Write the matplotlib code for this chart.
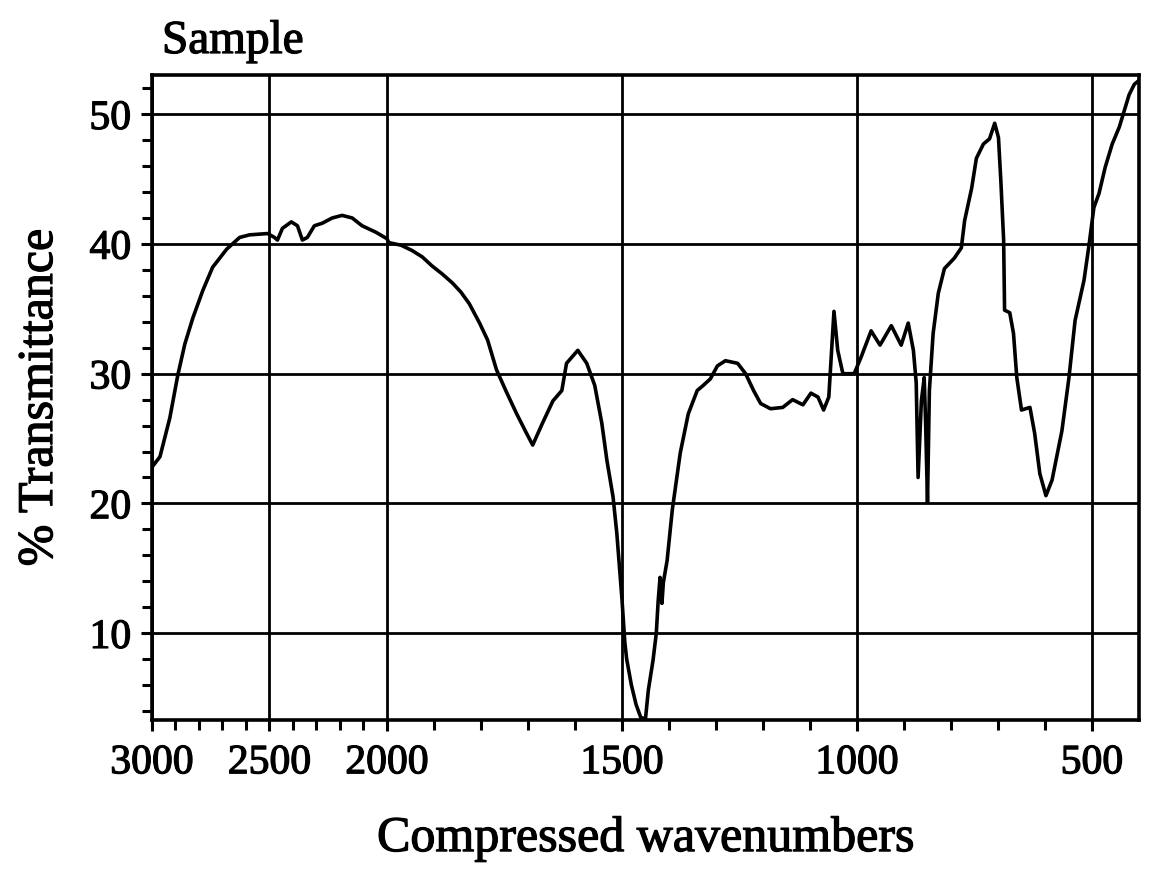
# plot.py
# IR spectrum of the sample, compressed wavenumber axis (3000-2000 at half scale)

import matplotlib.pyplot as plt
import matplotlib.patheffects as pe
import numpy as np
from matplotlib.ticker import MultipleLocator, FixedLocator

# wavenumbers (cm-1) and % transmittance
wavenumber = [
  3000, 2966, 2924, 2890, 2860, 2826, 2784, 2742, 2682, 2627, 2585, 2508,
  2479, 2466, 2445, 2407, 2381, 2360, 2339, 2309, 2275, 2233, 2191, 2148,
  2106, 2047, 2000,
  1996, 1970, 1947, 1925, 1904, 1883, 1861, 1843, 1825, 1803, 1786, 1767,
  1746, 1724, 1703, 1690, 1669, 1647, 1628, 1618, 1594, 1575, 1558, 1543,
  1532, 1519, 1511, 1500, 1494, 1490, 1480, 1470, 1460, 1450, 1444, 1434,
  1427, 1423, 1419, 1415, 1412, 1404, 1393, 1376, 1359, 1340, 1327, 1312,
  1297, 1280, 1254, 1237, 1220, 1205, 1184, 1158, 1137, 1115, 1098, 1083,
  1071, 1060, 1051, 1049, 1041, 1030, 1006, 991, 970, 951, 927, 906, 891,
  880, 874, 870, 863, 857, 854, 850, 846, 838, 827, 814, 793, 778, 771,
  756, 746, 731, 718, 707, 699, 694, 688, 686, 675, 667, 660, 650, 632,
  622, 611, 598, 585, 564, 549, 536, 517, 506, 496, 485, 472, 457, 442,
  432, 421, 410, 400,
]
transmittance = [
  22.8, 23.6, 26.6, 29.9, 32.3, 34.3, 36.4, 38.2, 39.6, 40.5, 40.7, 40.8,
  40.5, 40.3, 41.2, 41.7, 41.4, 40.3, 40.5, 41.4, 41.6, 42.0, 42.2, 42.0,
  41.4, 40.9, 40.4,
  40.1, 39.9, 39.5, 39.0, 38.3, 37.7, 37.0, 36.3, 35.4, 33.9, 32.6, 30.3,
  28.6, 26.9, 25.4, 24.5, 26.2, 27.9, 28.7, 30.8, 31.8, 30.8, 29.1, 26.2,
  23.3, 20.5, 17.7, 12.6, 9.3, 8.0, 6.0, 4.5, 3.5, 3.4, 5.6, 7.9,
  10.0, 12.5, 14.3, 12.3, 13.9, 15.6, 19.5, 23.9, 26.9, 28.7, 29.1, 29.6,
  30.6, 31.0, 30.8, 30.0, 28.7, 27.7, 27.3, 27.4, 28.0, 27.6, 28.5, 28.2,
  27.2, 28.2, 33.6, 34.8, 31.8, 30.0, 30.0, 31.3, 33.3, 32.2, 33.7, 32.2,
  33.9, 31.8, 29.3, 22.0, 27.9, 29.7, 26.2, 20.1, 28.7, 33.1, 36.2, 38.1,
  38.9, 39.7, 41.8, 44.3, 46.6, 47.7, 48.1, 49.3, 48.2, 44.9, 40.3, 34.9,
  34.7, 33.1, 29.7, 27.2, 27.4, 25.4, 22.3, 20.6, 21.8, 25.6, 29.7, 34.1,
  37.2, 40.0, 42.8, 43.9, 45.9, 47.7, 49.0, 50.2, 51.5, 52.3, 52.6,
]

x_ticks = [3000, 2500, 2000, 1500, 1000, 500]
y_ticks = [10, 20, 30, 40, 50]


# compressed axis: above 2000 cm-1 the scale is halved
def fwd(w):
  w = np.asarray(w, dtype=float)
  return np.where(w > 2000, 2000 + (w - 2000) / 2.0, w)


def inv(u):
  u = np.asarray(u, dtype=float)
  return np.where(u > 2000, 2000 + (u - 2000) * 2.0, u)


plt.rcParams['font.family'] = ['Liberation Serif', 'DejaVu Serif']
ink = [pe.withStroke(linewidth=0.9, foreground='black')]

fig = plt.figure(figsize=(11.54, 8.75), dpi=100)
ax = fig.add_axes([0.1317, 0.177, 0.8553, 0.737])

ax.plot(wavenumber, transmittance, color='black', linewidth=2.6,
        solid_joinstyle='round')

ax.set_xscale('function', functions=(fwd, inv))
ax.set_xlim(3000, 400)
ax.set_ylim(3.3, 53.0)

ax.xaxis.set_major_locator(FixedLocator(x_ticks))
ax.xaxis.set_minor_locator(FixedLocator([w for w in range(2900, 400, -100) if w % 500 != 0]))
ax.set_xticklabels([str(t) for t in x_ticks])
ax.yaxis.set_major_locator(FixedLocator(y_ticks))
ax.yaxis.set_minor_locator(MultipleLocator(2))

ax.grid(True, which='major', color='black', linewidth=2.0)
for s in ax.spines.values():
  s.set_linewidth(2.6)

ax.tick_params(axis='both', which='major', direction='out', length=8, width=2.2,
               labelsize=30, color='black')
ax.tick_params(axis='both', which='minor', direction='out', length=7, width=2.2)
ax.tick_params(axis='x', which='major', pad=9)
ax.tick_params(axis='y', which='major', pad=7)
for lab in ax.get_xticklabels() + ax.get_yticklabels():
  lab.set_path_effects(ink)

ax.set_xlabel('Compressed wavenumbers', fontsize=36, labelpad=24, path_effects=ink)
ax.set_ylabel('% Transmittance', fontsize=36, labelpad=19, path_effects=ink)
fig.text(162 / 1154, 1 - 53 / 875, 'Sample', fontsize=34, ha='left', va='baseline',
         path_effects=ink)

fig.savefig('out.png', dpi=100)
